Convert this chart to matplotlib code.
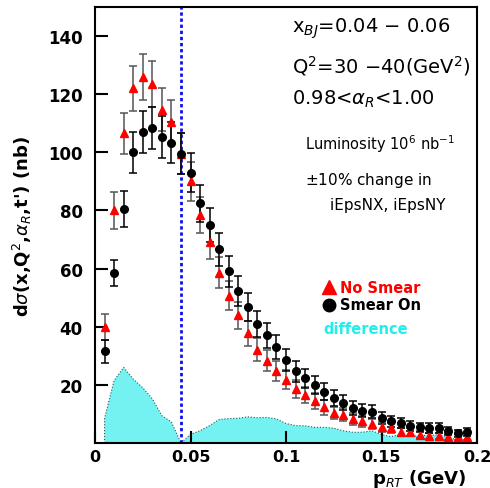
import numpy as np
from matplotlib import pyplot as plt

# p_RT bin positions (GeV)
p_rt = [0.005, 0.010, 0.015, 0.020, 0.025, 0.030, 0.035, 0.040, 0.045, 0.050,
        0.055, 0.060, 0.065, 0.070, 0.075, 0.080, 0.085, 0.090, 0.095, 0.100,
        0.105, 0.110, 0.115, 0.120, 0.125, 0.130, 0.135, 0.140, 0.145, 0.150,
        0.155, 0.160, 0.165, 0.170, 0.175, 0.180, 0.185, 0.190, 0.195]

# no smear (red triangles)
no_smear = [40.0, 80.0, 106.5, 122.0, 126.0, 123.5, 114.7, 110.5, 99.5, 90.0,
            78.3, 69.0, 58.6, 50.7, 43.9, 37.8, 32.1, 28.3, 24.7, 21.8,
            18.6, 16.4, 14.4, 12.3, 10.3, 9.7, 8.3, 7.4, 6.6, 5.6,
            5.2, 3.9, 3.7, 2.9, 2.5, 2.4, 2.2, 2.2, 2.2]
no_smear_err = [4.4, 6.3, 7.2, 7.8, 7.9, 7.8, 7.5, 7.4, 7.0, 6.6,
                6.2, 5.8, 5.4, 5.0, 4.6, 4.3, 4.0, 3.7, 3.5, 3.3,
                3.0, 2.8, 2.7, 2.5, 2.2, 2.2, 2.0, 1.9, 1.8, 1.7,
                1.6, 1.4, 1.3, 1.2, 1.1, 1.1, 1.0, 1.0, 1.0]

# smear on (black circles)
smear_on = [31.5, 58.5, 80.5, 100.0, 107.0, 108.3, 105.3, 103.3, 99.5, 93.0,
            82.5, 75.0, 66.7, 59.1, 52.4, 46.8, 40.8, 37.1, 33.0, 28.5,
            24.6, 22.3, 19.8, 17.7, 15.4, 13.9, 12.0, 11.1, 10.8, 8.5,
            7.4, 6.8, 6.0, 5.4, 5.2, 5.2, 4.0, 3.3, 3.9]
smear_on_err = [4.0, 4.5, 6.2, 7.1, 7.3, 7.3, 7.2, 7.1, 7.0, 6.7,
                6.4, 6.0, 5.7, 5.4, 5.1, 4.8, 4.5, 4.3, 4.0, 3.7,
                3.5, 3.3, 3.1, 2.9, 2.7, 2.6, 2.4, 2.3, 2.3, 2.0,
                1.9, 1.8, 1.7, 1.6, 1.6, 1.6, 1.4, 1.3, 1.4]

cut_line = 0.045

x = np.array(p_rt)
diff = np.abs(np.array(no_smear) - np.array(smear_on))

fig = plt.figure(figsize=(4.9, 4.89), dpi=100)
ax = fig.add_axes([95 / 490, 45 / 489, 382 / 490, 436 / 489])

# difference band
ax.fill_between(x, 0, diff, facecolor="#74f2f2", edgecolor="#335555",
                linestyle=":", linewidth=0.8, zorder=1)

ax.axvline(cut_line, color="#1010ee", linestyle=(0, (1.2, 1.0)), linewidth=2.0, zorder=2)

ax.errorbar(x, no_smear, yerr=no_smear_err, fmt="none", ecolor="#555555",
            elinewidth=1.1, capsize=3, capthick=1.1, zorder=3)
ax.errorbar(x, smear_on, yerr=smear_on_err, fmt="none", ecolor="black",
            elinewidth=1.1, capsize=3, capthick=1.1, zorder=3)
ax.plot(x, no_smear, "^", color="red", markersize=5.5, zorder=4)
ax.plot(x, smear_on, "o", color="black", markersize=5.5, zorder=5)

ax.set_xlim(0, 0.2)
ax.set_ylim(0, 150)
ax.set_xticks([0, 0.05, 0.1, 0.15, 0.2])
ax.set_xticklabels(["0", "0.05", "0.1", "0.15", "0.2"])
ax.set_yticks([20, 40, 60, 80, 100, 120, 140])
ax.tick_params(axis="both", direction="in", length=9, width=1.5, labelsize=12)
ax.tick_params(axis="x", pad=4, labelsize=11.5)
ax.tick_params(axis="y", pad=9)
for lab in ax.get_xticklabels() + ax.get_yticklabels():
    lab.set_fontweight("bold")
for s in ax.spines.values():
    s.set_linewidth(1.5)

ax.set_ylabel(r"d$\sigma$(x,Q$^2$,$\alpha_R$,t') (nb)", fontsize=13,
              fontweight="bold", labelpad=10)
fig.text(466 / 490, 1 - 479 / 489, r"p$_{RT}$ (GeV)", fontsize=13,
         fontweight="bold", ha="right", va="center")

# annotations
ax.text(0.103, 143, r"x$_{BJ}$=0.04 $-$ 0.06", fontsize=14, va="center")
ax.text(0.103, 130, r"Q$^2$=30 $-$40(GeV$^2$)", fontsize=14, va="center")
ax.text(0.103, 118.5, r"0.98<$\alpha_R$<1.00", fontsize=14, va="center")
ax.text(0.110, 103, r"Luminosity 10$^6$ nb$^{-1}$", fontsize=10.5, va="center")
ax.text(0.110, 90.5, r"$\pm$10% change in", fontsize=11, va="center")
ax.text(0.123, 82, "iEpsNX, iEpsNY", fontsize=11, va="center")

# legend
ax.plot([0.1225], [53.5], "^", color="red", markersize=10)
ax.text(0.1285, 53.5, "No Smear", color="red", fontsize=10.5, fontweight="bold", va="center")
ax.plot([0.1225], [47.5], "o", color="black", markersize=9)
ax.text(0.1285, 47.5, "Smear On", color="black", fontsize=10.5, fontweight="bold", va="center")
ax.text(0.1195, 39.5, "difference", color="#22eeee", fontsize=10.5, fontweight="bold", va="center")

fig.savefig("out.png", dpi=100)
